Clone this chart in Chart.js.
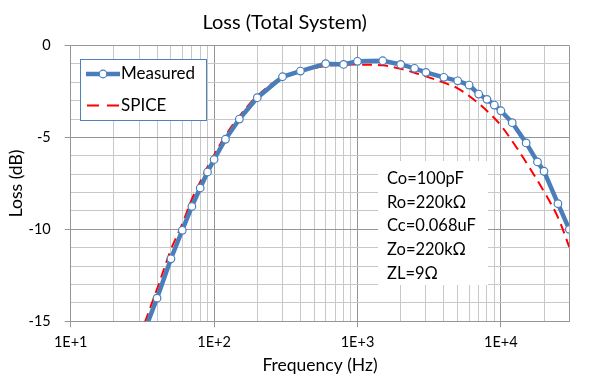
<!DOCTYPE html>
<html>
<head>
<meta charset="utf-8">
<script src="https://cdn.jsdelivr.net/npm/chart.js@4.4.1/dist/chart.umd.min.js"></script>
<style>
  html, body { margin: 0; padding: 0; background: #fff; }
  #wrap { width: 600px; height: 380px; }
</style>
</head>
<body>
<div id="wrap"><canvas id="lossChart" width="600" height="380"></canvas></div>
<script>
// Measured data (Hz, dB)
const freqMeasured = [30, 40, 50, 60, 70, 80, 90, 100, 120, 150, 200, 300, 400, 600, 800, 1000, 1500, 2000, 2500, 3000, 4000, 5000, 6000, 7000, 8000, 9000, 10000, 12000, 15000, 18000, 20000, 25000, 30000];
const lossMeasured = [-16.3, -13.74, -11.6, -10.05, -8.75, -7.75, -6.88, -6.2, -5.1, -4.0, -2.84, -1.70, -1.39, -0.99, -1.03, -0.86, -0.83, -1.03, -1.24, -1.46, -1.73, -1.92, -2.15, -2.64, -2.93, -3.24, -3.55, -4.2, -5.3, -6.33, -6.84, -8.6, -10.0];

// SPICE simulation (Hz, dB)
const freqSpice = [30, 40, 50, 60, 70, 80, 90, 100, 120, 150, 200, 300, 400, 600, 800, 1000, 1500, 2000, 2500, 3000, 4000, 5000, 6500, 8500, 10000, 12000, 15000, 20000, 25000, 30000];
const lossSpice = [-15.9, -13.25, -11.1, -9.7, -8.35, -7.42, -6.6, -5.95, -4.9, -3.85, -2.75, -1.7, -1.42, -1.12, -1.05, -1.04, -1.08, -1.27, -1.48, -1.68, -2.02, -2.33, -2.95, -3.75, -4.35, -5.2, -6.35, -7.95, -9.35, -10.96];

// Axis ticks
const xTickValues = [10, 20, 30, 40, 50, 60, 70, 80, 90, 100, 200, 300, 400, 500, 600, 700, 800, 900, 1000, 2000, 3000, 4000, 5000, 6000, 7000, 8000, 9000, 10000, 20000, 30000];
const yMajorStep = 5;

// Circuit parameters shown in the box
const noteLines = ['Co=100pF', 'Ro=220kΩ', 'Cc=0.068uF', 'Zo=220kΩ', 'ZL=9Ω'];

const FONT = 'Lato, "Open Sans", sans-serif';
const TEXT = '#000';
const BLUE = '#4a7ebb';
const RED = '#ff0000';
const MAJOR_GRID = '#969696';
const MINOR_GRID = '#c8c8c8';

function isDecade(v) {
  const l = Math.log10(v);
  return Math.abs(l - Math.round(l)) < 1e-9;
}

// Legend + parameter box drawn inside the plot area
const overlayPlugin = {
  id: 'overlay',
  afterDatasetsDraw(chart) {
    const ctx = chart.ctx;
    const dsM = chart.data.datasets[0];
    const dsS = chart.data.datasets[1];
    ctx.save();

    // parameter box
    ctx.fillStyle = '#fff';
    ctx.fillRect(378, 161, 110, 124);
    ctx.fillStyle = TEXT;
    ctx.font = '16.5px ' + FONT;
    ctx.textBaseline = 'middle';
    ctx.textAlign = 'left';
    noteLines.forEach((t, i) => ctx.fillText(t, 387, 178.5 + i * 23.7));

    // legend
    ctx.fillStyle = '#fff';
    ctx.fillRect(80.5, 59.5, 126, 61);
    ctx.strokeStyle = '#4f81bd';
    ctx.lineWidth = 1;
    ctx.strokeRect(80.5, 59.5, 126, 61);

    ctx.strokeStyle = dsM.borderColor;
    ctx.lineWidth = dsM.borderWidth;
    ctx.beginPath();
    ctx.moveTo(86, 74);
    ctx.lineTo(120, 74);
    ctx.stroke();
    ctx.beginPath();
    ctx.arc(103, 74, dsM.pointRadius, 0, Math.PI * 2);
    ctx.fillStyle = dsM.pointBackgroundColor;
    ctx.fill();
    ctx.lineWidth = dsM.pointBorderWidth;
    ctx.strokeStyle = dsM.pointBorderColor;
    ctx.stroke();

    ctx.strokeStyle = dsS.borderColor;
    ctx.lineWidth = dsS.borderWidth;
    ctx.setLineDash([12, 8]);
    ctx.beginPath();
    ctx.moveTo(87, 105.5);
    ctx.lineTo(120, 105.5);
    ctx.stroke();
    ctx.setLineDash([]);

    ctx.fillStyle = TEXT;
    ctx.font = '17px ' + FONT;
    ctx.fillText(dsM.label, 121, 74);
    ctx.fillText(dsS.label, 121, 105.5);
    ctx.restore();
  }
};

const ctx = document.getElementById('lossChart').getContext('2d');
new Chart(ctx, {
  type: 'line',
  data: {
    datasets: [{
      label: 'Measured',
      data: freqMeasured.map((f, i) => ({ x: f, y: lossMeasured[i] })),
      borderColor: BLUE,
      borderWidth: 4.5,
      pointRadius: 3.8,
      pointBackgroundColor: '#fff',
      pointBorderColor: BLUE,
      pointBorderWidth: 1.2,
      tension: 0,
      order: 1,
    }, {
      label: 'SPICE',
      data: freqSpice.map((f, i) => ({ x: f, y: lossSpice[i] })),
      borderColor: RED,
      borderWidth: 2,
      borderDash: [10, 6],
      pointRadius: 0,
      tension: 0.35,
      order: 2,
    }],
  },
  options: {
    responsive: false,
    animation: false,
    devicePixelRatio: 1,
    layout: { padding: { left: 0, right: 30.7, top: 0, bottom: 0 } },
    plugins: {
      legend: { display: false },
      tooltip: { enabled: false },
      title: {
        display: true,
        text: 'Loss (Total System)',
        color: TEXT,
        font: { family: FONT, size: 20, weight: 'normal', lineHeight: 1.1 },
        padding: { top: 12, bottom: 11.5 },
      },
    },
    scales: {
      x: {
        type: 'logarithmic',
        min: 10,
        max: 30000,
        afterBuildTicks: (scale) => {
          scale.ticks = xTickValues.map(v => ({ value: v }));
        },
        afterFit: (scale) => { scale.height = 58.7; },
        ticks: {
          autoSkip: false,
          maxRotation: 0,
          padding: 6,
          color: TEXT,
          font: { family: FONT, size: 14.5 },
          callback: (v) => isDecade(v) ? '1E+' + Math.round(Math.log10(v)) : '',
        },
        grid: {
          color: (c) => (c.tick && (isDecade(c.tick.value) || c.tick.value === 30000)) ? MAJOR_GRID : MINOR_GRID,
          tickColor: (c) => (c.tick && isDecade(c.tick.value)) ? MAJOR_GRID : 'transparent',
          tickLength: 6,
        },
        border: { color: MAJOR_GRID },
        title: {
          display: true,
          text: 'Frequency (Hz)',
          color: TEXT,
          font: { family: FONT, size: 17.5 },
          padding: { top: 0, bottom: 4 },
        },
      },
      y: {
        min: -15,
        max: 0,
        afterFit: (scale) => { scale.width = 70.7; },
        ticks: {
          stepSize: 1,
          autoSkip: false,
          padding: 14,
          color: TEXT,
          font: { family: FONT, size: 14.5 },
          callback: (v) => (Math.round(v) % yMajorStep === 0) ? String(Math.round(v)) : '',
        },
        grid: {
          color: (c) => (c.tick && Math.round(c.tick.value) % yMajorStep === 0) ? MAJOR_GRID : MINOR_GRID,
          tickColor: (c) => (c.tick && Math.round(c.tick.value) % yMajorStep === 0) ? MAJOR_GRID : 'transparent',
          tickLength: 6,
        },
        border: { color: MAJOR_GRID },
        title: {
          display: true,
          text: 'Loss (dB)',
          color: TEXT,
          font: { family: FONT, size: 17.5 },
          padding: { top: 6, bottom: 0 },
        },
      },
    },
  },
  plugins: [overlayPlugin],
});
</script>
</body>
</html>
